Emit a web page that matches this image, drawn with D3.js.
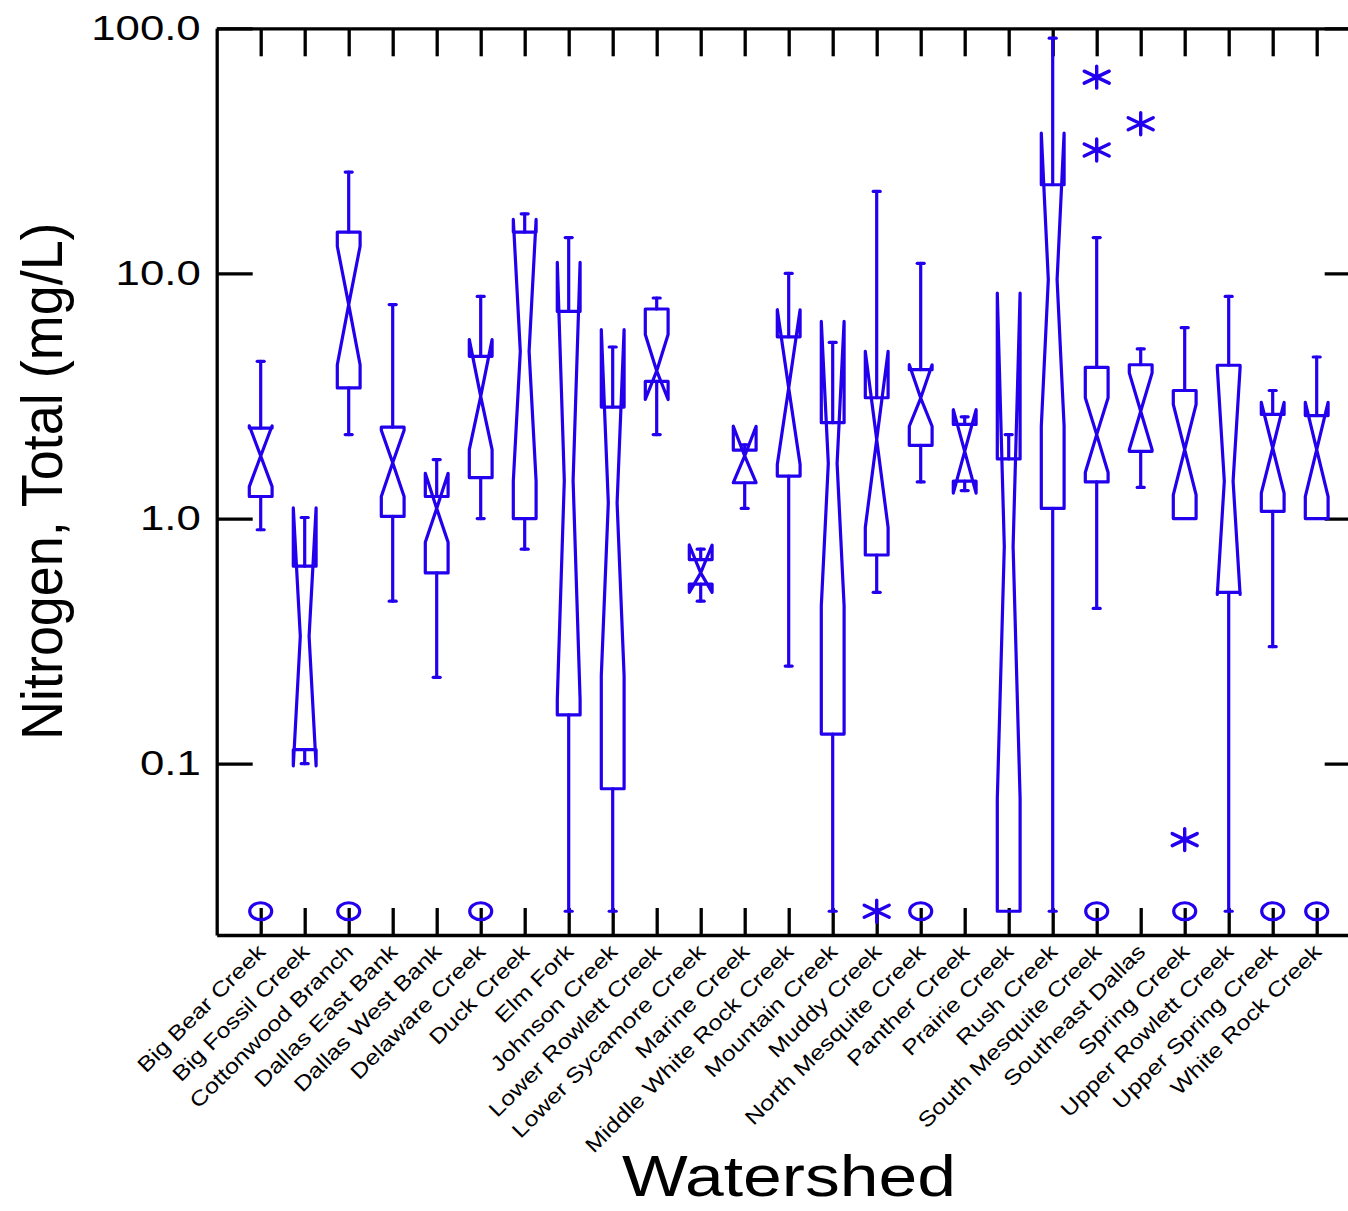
<!DOCTYPE html>
<html>
<head>
<meta charset="utf-8">
<script src="https://cdn.jsdelivr.net/npm/d3@7"></script>
<style>
  body { margin: 0; background: #fff; }
  svg { display: block; }
  text { font-family: "Liberation Sans", Arial, sans-serif; fill: #000; }
</style>
</head>
<body>
<svg id="chart" width="1348" height="1211"></svg>
<script>
// watersheds, left to right
const watersheds = ["Big Bear Creek", "Big Fossil Creek", "Cottonwood Branch", "Dallas East Bank",
  "Dallas West Bank", "Delaware Creek", "Duck Creek", "Elm Fork", "Johnson Creek",
  "Lower Rowlett Creek", "Lower Sycamore Creek", "Marine Creek", "Middle White Rock Creek",
  "Mountain Creek", "Muddy Creek", "North Mesquite Creek", "Panther Creek", "Prairie Creek",
  "Rush Creek", "South Mesquite Creek", "Southeast Dallas", "Spring Creek",
  "Upper Rowlett Creek", "Upper Spring Creek", "White Rock Creek"];

// box statistics (mg/L), one value per watershed
const whiskerLo = [0.90, 0.10, 2.20, 0.46, 0.225, 1.00, 0.75, 0.025, 0.025, 2.20, 0.46, 1.10, 0.25,
  0.025, 0.50, 1.41, 1.30, 0.025, 0.025, 0.43, 1.34, 1.00, 0.025, 0.30, 1.00];
const q1 = [1.23, 0.114, 3.41, 1.02, 0.60, 1.47, 1.00, 0.158, 0.079, 3.63, 0.54, 1.40, 1.49,
  0.132, 0.71, 1.99, 1.42, 0.025, 1.10, 1.41, 1.88, 1.00, 0.50, 1.07, 1.00];
const notchLo = [1.35, 0.098, 4.24, 1.23, 0.80, 1.91, 1.42, 0.183, 0.228, 3.06, 0.50, 1.40, 1.66,
  0.44, 0.92, 2.38, 1.27, 0.072, 2.38, 1.54, 1.91, 1.25, 0.49, 1.27, 1.23];
const median = [1.80, 0.331, 7.46, 1.69, 1.10, 3.15, 4.81, 1.43, 1.16, 4.00, 0.60, 1.80, 3.41,
  1.68, 2.10, 3.10, 1.88, 0.77, 9.43, 2.20, 2.74, 1.91, 1.42, 1.94, 1.91];
const notchHi = [2.39, 1.105, 12.9, 2.29, 1.53, 5.37, 16.6, 11.1, 5.90, 5.63, 0.78, 2.38, 7.11,
  6.37, 4.81, 4.24, 2.78, 8.32, 37.4, 3.11, 3.93, 2.92, 4.13, 2.98, 2.98];
const q3 = [2.34, 0.639, 14.75, 2.36, 1.23, 4.59, 14.75, 7.00, 2.85, 7.16, 0.68, 1.90, 5.51,
  2.46, 3.11, 4.05, 2.42, 1.75, 23.0, 4.14, 4.24, 3.33, 4.22, 2.66, 2.63];
const whiskerHi = [4.38, 1.01, 25.9, 7.46, 1.74, 8.06, 17.5, 14.0, 5.01, 7.94, 0.75, 2.00, 10.0,
  5.23, 21.6, 11.0, 2.60, 2.20, 91.1, 14.0, 4.92, 6.01, 8.06, 3.33, 4.56];

// outside values: [watershed index, value]
const starPoints = [[14, 0.025], [19, 63.2], [19, 31.9], [20, 40.8], [21, 0.049]];
const circlePoints = [[0, 0.025], [2, 0.025], [5, 0.025], [15, 0.025], [19, 0.025],
  [21, 0.025], [23, 0.025], [24, 0.025]];

const yTicks = [0.1, 1, 10, 100];

const blue = "#2200ee";
const svg = d3.select("#chart");
const plotLeft = 216.7, plotRight = 1360.7, plotTop = 28.3, plotBottom = 935;

// categories sit at 1..25, plot spans 0..26
const x = d3.scaleLinear().domain([0, 26]).range([plotLeft, plotRight]);
const y = d3.scaleLog().domain([0.02, 100]).range([plotBottom, plotTop]);

const axisStyle = g => {
  g.select(".domain").attr("stroke", "#000").attr("stroke-width", 3.3);
  g.selectAll(".tick line").attr("stroke", "#000").attr("stroke-width", 3.3);
};

// y axes
const labelStretch = 1.25;
svg.append("g")
  .attr("transform", `translate(${plotLeft},0)`)
  .call(d3.axisLeft(y).tickValues(yTicks).tickSize(-36).tickSizeOuter(0)
    .tickPadding(16).tickFormat(d3.format(".1f")))
  .call(axisStyle)
  .call(g => g.selectAll(".tick text")
    .attr("font-size", 35)
    .attr("fill", "#000")
    .attr("x", -16 / labelStretch)
    .attr("transform", `scale(${labelStretch},1)`));

svg.append("g")
  .attr("transform", `translate(${plotRight},0)`)
  .call(d3.axisRight(y).tickValues(yTicks).tickSize(-36).tickSizeOuter(0).tickFormat(""))
  .call(axisStyle);

// x axes
const cats = d3.range(1, watersheds.length + 1);
svg.append("g")
  .attr("transform", `translate(0,${plotTop})`)
  .call(d3.axisTop(x).tickValues(cats).tickSize(-28).tickSizeOuter(0).tickFormat(""))
  .call(axisStyle);

svg.append("g")
  .attr("transform", `translate(0,${plotBottom})`)
  .call(d3.axisBottom(x).tickValues(cats).tickSize(-27).tickSizeOuter(0).tickFormat(""))
  .call(axisStyle);

// category labels
svg.append("g").selectAll("text")
  .data(watersheds)
  .join("text")
  .attr("text-anchor", "end")
  .attr("font-size", 21)
  .attr("transform", (d, i) => `translate(${x(i + 1) + 6},${plotBottom + 18}) rotate(-45) scale(1.2,1)`)
  .text(d => d);

// notched boxes
const halfW = 11.4;
const boxes = svg.append("g")
  .attr("fill", "none")
  .attr("stroke", blue)
  .attr("stroke-width", 3.2)
  .attr("stroke-linejoin", "round")
  .attr("stroke-linecap", "round");

watersheds.forEach((name, i) => {
  const cx = x(i + 1);
  const L = cx - halfW, R = cx + halfW;
  const yq1 = y(q1[i]), yq3 = y(q3[i]), ymd = y(median[i]);
  const ynl = y(notchLo[i]), ynh = y(notchHi[i]);
  const notchLen = (ynl - ynh) / 2;
  const ind = notchLen > 90 ? 7 : halfW;

  const pts = [[L, yq1], [L, ynl], [L + ind, ymd], [L, ynh], [L, yq3],
    [R, yq3], [R, ynh], [R - ind, ymd], [R, ynl], [R, yq1]];
  boxes.append("path").attr("d", d3.line()(pts) + "Z");

  // whiskers
  const yhi = y(whiskerHi[i]), ylo = y(whiskerLo[i]);
  if (whiskerHi[i] > q3[i]) {
    boxes.append("line").attr("x1", cx).attr("x2", cx).attr("y1", yq3).attr("y2", yhi);
    boxes.append("line").attr("x1", cx - 3.5).attr("x2", cx + 3.5).attr("y1", yhi).attr("y2", yhi);
  }
  if (whiskerLo[i] < q1[i]) {
    boxes.append("line").attr("x1", cx).attr("x2", cx).attr("y1", yq1).attr("y2", ylo);
    boxes.append("line").attr("x1", cx - 3.5).attr("x2", cx + 3.5).attr("y1", ylo).attr("y2", ylo);
  }
});

// outside values
boxes.selectAll("ellipse")
  .data(circlePoints)
  .join("ellipse")
  .attr("cx", d => x(d[0] + 1))
  .attr("cy", d => y(d[1]))
  .attr("rx", 11)
  .attr("ry", 8.5);

const star = "M0,-11V11M-12.5,-6L12.5,6M-12.5,6L12.5,-6";
boxes.selectAll(".star")
  .data(starPoints)
  .join("path")
  .attr("class", "star")
  .attr("stroke-width", 3.4)
  .attr("transform", d => `translate(${x(d[0] + 1)},${y(d[1])})`)
  .attr("d", star);

// axis titles
svg.append("text")
  .attr("transform", "translate(62,740) rotate(-90) scale(0.93,1)")
  .attr("font-size", 58)
  .text("Nitrogen, Total (mg/L)");

svg.append("text")
  .attr("transform", "translate(622,1196) scale(1.2,1)")
  .attr("font-size", 58)
  .text("Watershed");
</script>
</body>
</html>
